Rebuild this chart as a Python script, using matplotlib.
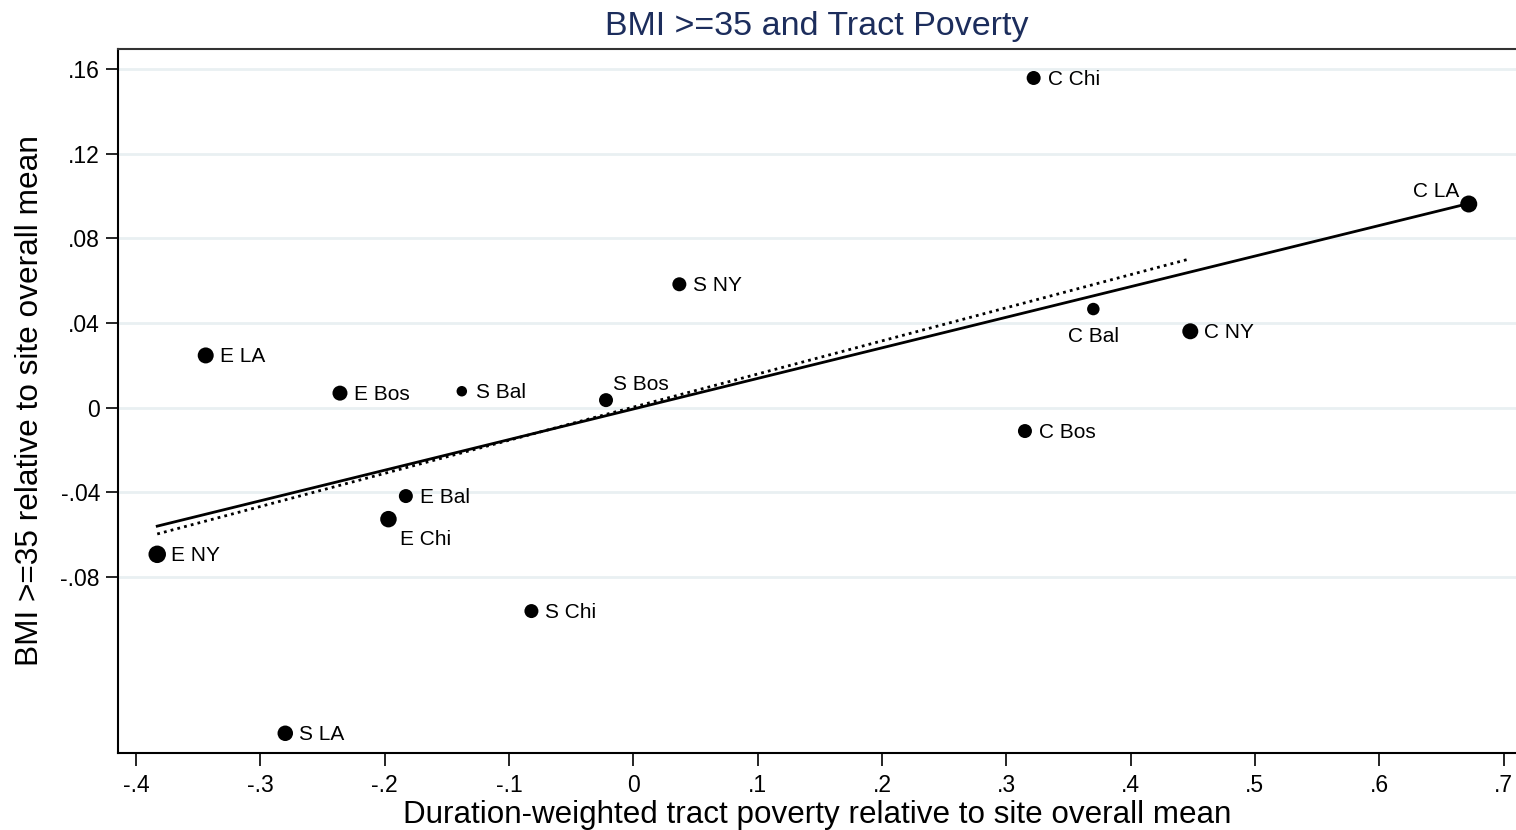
import numpy as np
import matplotlib.pyplot as plt

plt.rcParams['font.family'] = ['Liberation Sans', 'DejaVu Sans']

# site-by-group means, relative to each site's overall mean
names = ["C Chi", "C LA", "S NY", "C Bal", "C NY", "E LA", "E Bos", "S Bal",
         "S Bos", "C Bos", "E Bal", "E Chi", "E NY", "S Chi", "S LA"]
poverty = [0.322, 0.672, 0.037, 0.370, 0.448, -0.344, -0.236, -0.138,
           -0.022, 0.315, -0.183, -0.197, -0.383, -0.082, -0.280]
bmi35 = [0.1557, 0.0962, 0.0583, 0.0466, 0.0361, 0.0247, 0.0069, 0.0078,
         0.0036, -0.0110, -0.0417, -0.0526, -0.0692, -0.0960, -0.1537]
# marker diameter (px), scaled by group size
wt = [14, 17, 14, 12.5, 16, 16, 15, 10.5, 14, 14, 14, 16.5, 17.5, 14, 15.5]

# fitted lines: all groups (solid), without C LA (dotted)
fit_x = [-0.383, 0.6724]
fit_y = [-0.0559, 0.0965]
fit2_x = [-0.383, 0.447]
fit2_y = [-0.0596, 0.0702]

xticks = [-0.4, -0.3, -0.2, -0.1, 0, 0.1, 0.2, 0.3, 0.4, 0.5, 0.6, 0.7]
xlabels = ["-.4", "-.3", "-.2", "-.1", "0", ".1", ".2", ".3", ".4", ".5", ".6", ".7"]
yticks = [0.16, 0.12, 0.08, 0.04, 0, -0.04, -0.08]
ylabels = [".16", ".12", ".08", ".04", "0", "-.04", "-.08"]

# label placement: (dx, dy) in points, ha
pos = {"C LA": (-7, 9, "right"), "C Bal": (0, -19.5, "center"),
       "E Chi": (8.5, -15, "left"), "S Bos": (5, 11.5, "left")}

fig = plt.figure(figsize=(15.16, 8.30), dpi=100)
ax = fig.add_axes([0.0778, 0.0928, 0.9222, 0.8482])

for y in yticks:
    ax.axhline(y, color="#e9f0f2", lw=2, zorder=0)

ax.plot(fit_x, fit_y, color="black", lw=2.0, zorder=2)
ax.plot(fit2_x, fit2_y, color="black", lw=2.0, ls=(0, (1, 1.5)), zorder=2)

ax.scatter(poverty, bmi35, s=(np.array(wt) * 0.72) ** 2, color="black",
           linewidths=0, zorder=3)

for n, x, y in zip(names, poverty, bmi35):
    dx, dy, ha = pos.get(n, (10, -1, "left"))
    ax.annotate(n, (x, y), xytext=(dx, dy), textcoords="offset points",
                ha=ha, va="center", fontsize=15)

ax.set_xlim(-0.4146, 0.710)
ax.set_ylim(-0.163, 0.1694)
ax.set_xticks(xticks, xlabels)
ax.set_yticks(yticks, ylabels)
ax.tick_params(labelsize=16.5, length=9, width=1.2, pad=4)
ax.tick_params(axis="x", pad=6)

ax.spines["right"].set_visible(False)
for s in ["left", "bottom", "top"]:
    ax.spines[s].set_linewidth(1.5)
ax.spines["top"].set_color("#333333")

ax.set_xlabel("Duration-weighted tract poverty relative to site overall mean",
              fontsize=22.6, labelpad=2)
ax.set_ylabel("BMI >=35 relative to site overall mean", fontsize=22.8, labelpad=11)
ax.set_title("BMI >=35 and Tract Poverty", fontsize=24.5, color="#1c2d5c", pad=10)

fig.savefig("out.png", dpi=100)
